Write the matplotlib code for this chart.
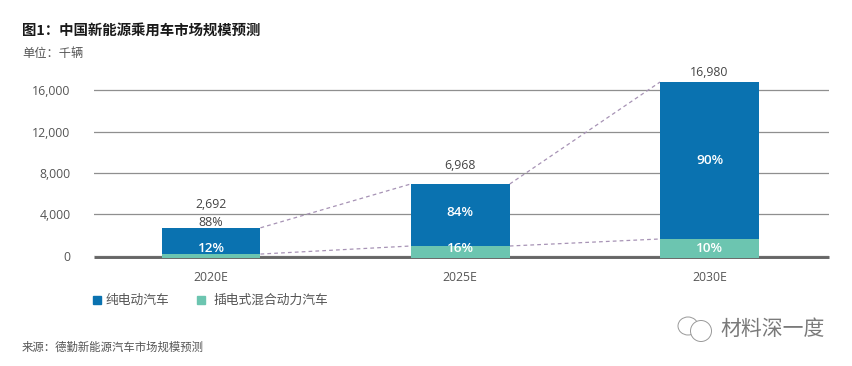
import matplotlib
matplotlib.use("Agg")
import matplotlib.pyplot as plt
import numpy as np
from matplotlib.patches import Ellipse, Rectangle

CJK = ['Noto Sans CJK SC', 'DejaVu Sans']
plt.rcParams['font.family'] = ['Open Sans', 'Noto Sans CJK SC', 'DejaVu Sans']

years = ["2020E", "2025E", "2030E"]
totals = [2692, 6968, 16980]
bev_share = [88, 84, 90]
phev_share = [12, 16, 10]
# heights as the bars are actually drawn in the picture
bar_tops = [2692, 6935, 16810]
phev_tops = [150, 930, 1610]
yticks = [0, 4000, 8000, 12000, 16000]
legend_names = ["纯电动汽车", "插电式混合动力汽车"]

BLUE = "#0a72b0"
TEAL = "#6cc5b0"
GREY = "#555555"

W, H = 852, 366
fig = plt.figure(figsize=(W / 100, H / 100), dpi=100)

# axes box in pixels, 0 sits at y=255.6 and 4000 units are 41.3 px
y0_px = 255.6
px_per_unit = 41.3 / 4000
top_px = 60
ax = fig.add_axes([94 / W, 1 - y0_px / H, (829 - 94) / W, (y0_px - top_px) / H])
ax.set_xlim(-0.4694, 2.4794)
ax.set_ylim(0, (y0_px - top_px) / px_per_unit)


def y_at(py):
    return (y0_px - py) / px_per_unit


x = np.arange(3)
bar_tops = np.array(bar_tops, dtype=float)
phev_tops = np.array(phev_tops, dtype=float)
bar_w = 0.397

ax.set_axisbelow(True)
ax.set_yticks(yticks)
ax.set_yticklabels([f"{v:,}" for v in yticks], fontsize=8.8, color=GREY)
ax.yaxis.grid(True, color="#8f8f8f", lw=0.9)
ax.tick_params(axis="both", length=0)
ax.tick_params(axis="y", pad=17)
ax.tick_params(axis="x", pad=11)
ax.set_xticks(x)
ax.set_xticklabels(years, fontsize=8.8, color=GREY)
for s in ax.spines.values():
    s.set_visible(False)

# bars hang a little below the thick baseline
sink = y_at(y0_px + 2.4)
ax.bar(x, phev_tops - sink, bar_w, bottom=sink, color=TEAL, zorder=3, clip_on=False)
ax.bar(x, bar_tops - phev_tops, bar_w, bottom=phev_tops, color=BLUE, zorder=3)
ax.plot([-0.4694, 2.4794], [y_at(y0_px + 1)] * 2, color="#666666", lw=2.1, zorder=2,
        clip_on=False, solid_capstyle="butt")

# dashed connectors between stacked tops
for i in range(2):
    xs = [x[i] + bar_w / 2, x[i + 1] - bar_w / 2]
    ax.plot(xs, [bar_tops[i], bar_tops[i + 1]], color="#a793b5", lw=0.9, ls=(0, (3, 2.5)), zorder=2)
    ax.plot(xs, [phev_tops[i], phev_tops[i + 1]], color="#a793b5", lw=0.9, ls=(0, (3, 2.5)), zorder=2)

total_py = [205, 165, 73]
bev_py = [222, 213, 160]
phev_py = [248, 248.5, 248.5]
for i in range(3):
    ax.text(x[i], y_at(total_py[i]), f"{totals[i]:,}", ha="center", va="center", fontsize=8.8, color="#444444")
    # 2020 bar is too short, its share sits on top in dark text
    c = "#444444" if i == 0 else "#ffffff"
    w = "normal" if i == 0 else "semibold"
    ax.text(x[i], y_at(bev_py[i]), f"{bev_share[i]}%", ha="center", va="center", fontsize=9.0 if i == 0 else 9.7,
            color=c, fontweight=w, zorder=4)
    ax.text(x[i], y_at(phev_py[i]), f"{phev_share[i]}%", ha="center", va="center", fontsize=9.7,
            color="#ffffff", fontweight="semibold", zorder=4)


def ftext(px, py, s, **kw):
    fig.text(px / W, 1 - py / H, s, va="center", family=CJK, **kw)


ftext(22, 30.5, "图1：中国新能源乘用车市场规模预测", fontsize=10.4, fontweight="bold", color="#1a1a1a")
ftext(22, 54, "单位：千辆", fontsize=8.8, color="#555555")
ftext(22, 347, "来源：德勤新能源汽车市场规模预测", fontsize=8.2, color="#555555")

# legend placed by hand to sit where the reference has it
ftext(106, 300, legend_names[0], fontsize=9.2, color="#555555")
ftext(213, 300, legend_names[1], fontsize=9.2, color="#555555")
fig.patches.extend([
    Rectangle((93 / W, 1 - 304 / H), 8 / W, 8 / H, transform=fig.transFigure, color=BLUE),
    Rectangle((197 / W, 1 - 304 / H), 8 / W, 8 / H, transform=fig.transFigure, color=TEAL),
])

# watermark
ftext(720, 329, "材料深一度", fontsize=15, color="#7a7a7a")
for cx, cy, w, h in [(688, 326, 20, 18), (701, 331, 21, 21)]:
    fig.patches.append(Ellipse((cx / W, 1 - cy / H), w / W, h / H, transform=fig.transFigure,
                               facecolor="white", edgecolor="#999999", lw=0.7))

fig.savefig("out.png", dpi=100)
